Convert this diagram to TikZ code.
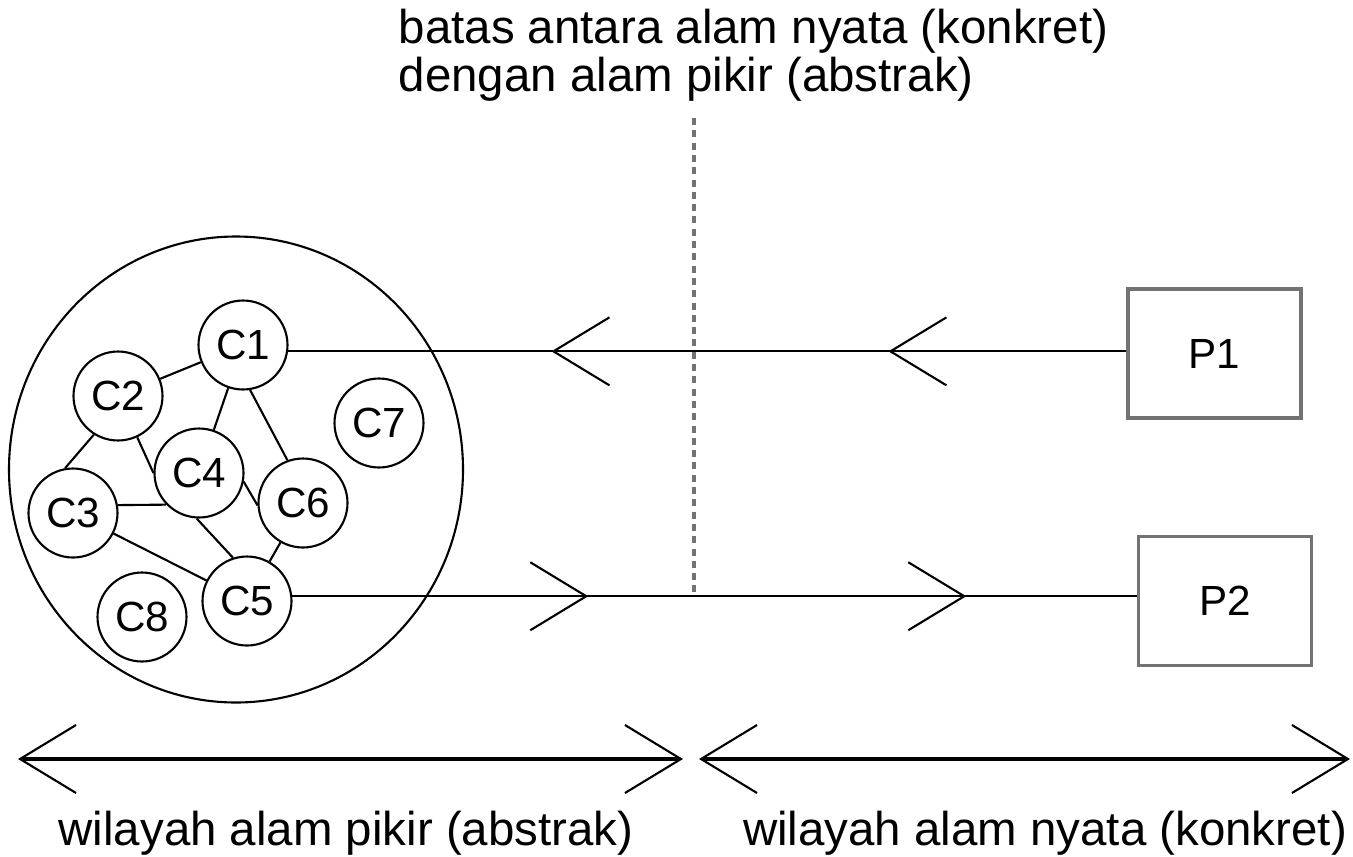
\documentclass[tikz,border=0pt]{standalone}
\usepackage{fontspec}
\setmainfont{Liberation Sans}
\usetikzlibrary{arrows.meta,decorations.markings}

\tikzset{
  vbarb/.tip={Straight Barb[length=5.6mm,width=6.8mm]},
  conc/.style={draw, circle, minimum size=0.89cm, inner sep=0pt, font=\fontsize{12}{14}\selectfont},
  obj/.style={draw=black!55, line width=0.9pt, minimum width=1.73cm, minimum height=1.29cm, inner sep=0pt, font=\fontsize{12}{14}\selectfont},
}

\begin{document}
\begin{tikzpicture}[line width=0.6pt, font=\fontsize{13.5}{11.5}\selectfont]
      \useasboundingbox (0,0) rectangle (13.53,8.56);
      \draw (2.36,3.865) ellipse (2.27cm and 2.33cm);
      \node[conc] at (2.43, 5.11)  (C1) {C1};
      \node[conc] at (1.18, 4.60)  (C2) {C2};
      \node[conc] at (0.73, 3.43)  (C3) {C3};
      \node[conc] at (1.99, 3.83)  (C4) {C4};
      \node[conc] at (2.47, 2.55)  (C5) {C5};
      \node[conc] at (3.03, 3.53)  (C6) {C6};
      \node[conc] at (3.79, 4.33)  (C7) {C7};
      \node[conc] at (1.42, 2.39)  (C8) {C8};
      \node[obj] at (12.145, 5.025) (P1) {P1};
      \node[obj] at (12.25, 2.55)   (P2) {P2};
      \path[draw] (C1) -- (C2);
      \path[draw] (C1) -- (C4);
      \path[draw] (C1.-81) -- (C6.110);
      \path[draw] (C2.238) -- (C3.100);
      \path[draw] (C2.-65) -- (C4.180);
      \path[draw] (C3.10) -- (C4.224);
      \path[draw] (C3) -- (C5);
      \path[draw] (C4.-93) -- (C5.108);
      \path[draw] (C4.-11) -- (C6.183);
      \path[draw] (C6) -- (C5);
      % batas
      \coordinate (bTop) at (6.94, 7.38);
      \coordinate (bBot) at (6.94, 2.59);
      \draw[dashed, black!55, line width=0.9pt, dash pattern=on 2pt off 1.5pt] (bTop) -- (bBot);
      \node[align=left, anchor=base west] at (3.86, 7.65) (bnd) {batas antara alam nyata (konkret)\\dengan alam pikir (abstrak)};
      % P1 -> C1, C5 -> P2
      \path[draw, decoration={markings,
          mark=at position 2.38cm with {\arrow{vbarb}},
          mark=at position 5.75cm with {\arrow{vbarb}}}, postaction=decorate]
          (C1.-8 -| P1.west) -- (C1.-8);
      \path[draw, decoration={markings,
          mark=at position 2.96cm with {\arrow{vbarb}},
          mark=at position 6.74cm with {\arrow{vbarb}}}, postaction=decorate]
          (C5.6) -- (C5.6 -| P2.west);
      % wilayah
      \coordinate (absL) at (0.18, 0.97);
      \coordinate (absR) at (6.83, 0.97);
      \coordinate (konL) at (6.99, 0.97);
      \coordinate (konR) at (13.50, 0.97);
      \path[draw, line width=1.2pt, {vbarb[line width=0.6pt]}-{vbarb[line width=0.6pt]}] (absL) -- (absR);
      \path[draw, line width=1.2pt, {vbarb[line width=0.6pt]}-{vbarb[line width=0.6pt]}] (konL) -- (konR);
      \node[anchor=base] at (3.46, 0.11)  (abs) {wilayah alam pikir (abstrak)};
      \node[anchor=base] at (10.45, 0.11) (kon) {wilayah alam nyata (konkret)};
\end{tikzpicture}
\end{document}
